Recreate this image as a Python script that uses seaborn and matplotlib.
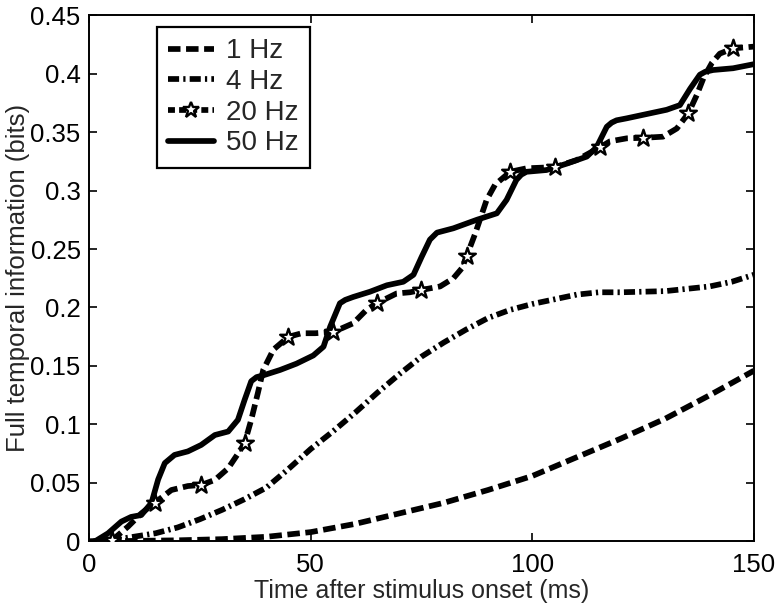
import numpy as np
import pandas as pd
import matplotlib
matplotlib.use("Agg")
import matplotlib.pyplot as plt
from matplotlib.lines import Line2D
import seaborn as sns

# Cumulative information curves (time in ms, information in bits)
t_1hz = [0, 10, 20, 30, 40, 50, 60, 70, 80, 90, 100, 110, 120, 130, 140, 150]
i_1hz = [0, 0.0005, 0.001, 0.002, 0.004, 0.008, 0.015, 0.024, 0.033, 0.044,
         0.056, 0.072, 0.088, 0.105, 0.125, 0.146]

t_4hz = [0, 5, 10, 15, 20, 25, 30, 35, 40, 45, 50, 55, 60, 65, 70, 75, 80, 85,
         90, 95, 100, 105, 110, 115, 120, 125, 130, 135, 140, 145, 150]
i_4hz = [0, 0.001, 0.004, 0.007, 0.012, 0.019, 0.027, 0.036, 0.046, 0.062,
         0.079, 0.094, 0.110, 0.127, 0.143, 0.158, 0.170, 0.181, 0.191, 0.198,
         0.203, 0.207, 0.211, 0.213, 0.213, 0.2135, 0.214, 0.216, 0.218, 0.222,
         0.228]

t_20hz = [1.0, 5.2, 8.8, 11.8, 14.8, 18.6, 22.3, 25.3, 28.4, 31.4, 33.6, 35.1,
          36.6, 38.1, 39.3, 41.6, 45.0, 48.0, 51.0, 55.1, 59.6, 62.6, 64.9,
          69.4, 72.4, 75.0, 79.2, 82.2, 84.1, 85.2, 87.1, 89.7, 91.6, 95.0,
          98.7, 105.1, 110.0, 115.3, 117.5, 121.3, 125.0, 129.5, 132.6, 135.2,
          137.1, 138.6, 140.5, 142.3, 145.3, 150.0]
i_20hz = [0, 0.001, 0.0127, 0.024, 0.033, 0.044, 0.0474, 0.0483, 0.0526,
          0.0626, 0.075, 0.084, 0.104, 0.127, 0.1466, 0.164, 0.175, 0.178,
          0.178, 0.179, 0.1865, 0.198, 0.2036, 0.212, 0.213, 0.215, 0.218,
          0.225, 0.2335, 0.244, 0.263, 0.292, 0.305, 0.316, 0.319, 0.320,
          0.326, 0.337, 0.342, 0.3446, 0.345, 0.346, 0.353, 0.366, 0.3816,
          0.396, 0.409, 0.417, 0.4215, 0.423]
star_t_20hz = [5.2, 14.8, 25.3, 35.1, 45.0, 55.1, 64.9, 75.0, 85.2, 95.0,
               105.1, 115.3, 125.0, 135.2, 145.3]

t_50hz = [1.3, 4.3, 7.3, 9.5, 11.8, 14.1, 15.6, 17.1, 19.3, 22.3, 25.3, 28.4,
          31.4, 33.6, 35.1, 36.6, 37.8, 39.3, 43.1, 46.8, 50.6, 52.9, 54.4,
          56.6, 57.8, 59.6, 63.4, 67.2, 70.9, 73.2, 75.0, 76.9, 78.5, 82.2,
          87.5, 92.0, 94.2, 96.4, 97.5, 98.7, 103.2, 107.8, 112.3, 114.5,
          116.8, 117.9, 119.0, 121.3, 126.6, 130.3, 133.3, 135.6, 137.8, 139.0,
          140.8, 145.3, 150.0]
i_50hz = [0, 0.007, 0.017, 0.021, 0.0226, 0.033, 0.053, 0.067, 0.074, 0.077,
          0.0825, 0.091, 0.094, 0.104, 0.121, 0.137, 0.1405, 0.142, 0.1466,
          0.152, 0.159, 0.1665, 0.1836, 0.2036, 0.2065, 0.209, 0.2135, 0.219,
          0.222, 0.228, 0.243, 0.258, 0.264, 0.2677, 0.275, 0.2805, 0.292,
          0.309, 0.3135, 0.316, 0.3175, 0.323, 0.329, 0.337, 0.3545, 0.358,
          0.360, 0.3617, 0.366, 0.369, 0.373, 0.387, 0.399, 0.4015, 0.403,
          0.4045, 0.408]

labels = ["1 Hz", "4 Hz", "20 Hz", "50 Hz"]
x_ticks = [0, 50, 100, 150]
y_ticks = [0, 0.05, 0.1, 0.15, 0.2, 0.25, 0.3, 0.35, 0.4, 0.45]
y_tick_labels = ["0", "0.05", "0.1", "0.15", "0.2", "0.25", "0.3", "0.35", "0.4", "0.45"]

sns.set_theme(style="ticks")
plt.rcParams["font.family"] = ["Liberation Sans", "DejaVu Sans"]
plt.rcParams["lines.scale_dashes"] = False

fig = plt.figure(figsize=(7.84, 6.08), dpi=100)
ax = fig.add_axes([0.1135, 0.1094, 0.8482, 0.8659])

LW = 4.1
dash_1 = (0, (9, 4))
dash_4 = (0, (8, 3, 1.6, 3))
dash_20 = (0, (9, 4))

def draw(t, v, style):
    n = len(ax.lines)
    sns.lineplot(x=t, y=v, ax=ax, color="black", lw=LW, sort=False,
                 estimator=None)
    line = ax.lines[n]
    line.set_linestyle(style)
    line.set_dash_capstyle("butt")
    line.set_solid_capstyle("butt")
    line.set_solid_joinstyle("round")
    line.set_dash_joinstyle("round")
    return line

draw(t_1hz, i_1hz, dash_1)
draw(t_4hz, i_4hz, dash_4)
draw(t_20hz, i_20hz, dash_20)
draw(t_50hz, i_50hz, "-")

# star markers along the 20 Hz curve
t20 = np.array(t_20hz)
v20 = np.array(i_20hz)
mask = np.isin(t20, star_t_20hz)
stars = pd.DataFrame({"t": t20[mask], "v": v20[mask]})
sns.scatterplot(data=stars, x="t", y="v", ax=ax, marker="*", s=160,
                facecolor="white", edgecolor="black", linewidth=1.7, zorder=5)

ax.set_xlim(0, 150)
ax.set_ylim(0, 0.45)
ax.set_xticks(x_ticks)
ax.set_xticklabels([str(v) for v in x_ticks])
ax.set_yticks(y_ticks)
ax.set_yticklabels(y_tick_labels)
ax.tick_params(direction="in", length=6, width=1.2, top=True, right=True,
               labelsize=18.5, colors="black")
ax.tick_params(axis="x", pad=8)
ax.tick_params(axis="y", pad=6)
for s in ax.spines.values():
    s.set_visible(True)
    s.set_linewidth(1.4)
    s.set_color("black")

ax.set_xlabel("Time after stimulus onset (ms)", fontsize=18, labelpad=2)
ax.set_ylabel("Full temporal information (bits)", fontsize=18.5, labelpad=0)

handles = [
    Line2D([], [], color="black", lw=LW, linestyle=dash_1, dash_capstyle="butt"),
    Line2D([], [], color="black", lw=LW, linestyle=dash_4, dash_capstyle="butt"),
    Line2D([], [], color="black", lw=LW, linestyle=(0, (5, 3)), marker="*",
           markersize=12, markerfacecolor="white", markeredgecolor="black",
           markeredgewidth=1.7, dash_capstyle="butt"),
    Line2D([], [], color="black", lw=LW, linestyle="-"),
]
leg = ax.legend(handles, labels, loc="upper left",
                bbox_to_anchor=(0.102, 0.977), fontsize=20, frameon=True,
                fancybox=False, shadow=False, framealpha=1, edgecolor="black",
                handlelength=1.65, handletextpad=0.45, labelspacing=0.17,
                borderpad=0.4, borderaxespad=0, numpoints=1)
leg.get_frame().set_linewidth(1.6)

fig.savefig("out.png", dpi=100)
